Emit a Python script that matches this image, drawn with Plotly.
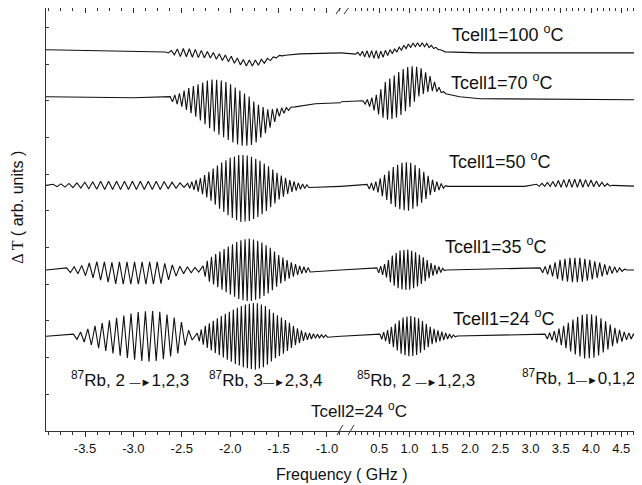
import numpy as np
import plotly.graph_objects as go

# ---------------- data ----------------
# frequencies in GHz, signal in arb. units (vertical offset per trace)
LEFT_RANGE = [-3.903, -0.855]
RIGHT_RANGE = [-0.132, 4.843]

# --- Tcell1 = 100 C ---
T100_BASE = 373
T100_L_BG_F = [-3.90, -3.35, -2.72, -2.42, -2.21, -2.00, -1.85, -1.74, -1.64, -1.49, -1.28, -0.86]
T100_L_BG_V = [1, 0, -1, -2, -4, -8, -12, -12, -10, -5, -3, -2]
T100_L_P1_F = [-2.67, -2.52, -2.36, -2.21, -2.05, -1.90, -1.74, -1.64, -1.54, -1.43]
T100_L_P1_A = [0, 4, 4, 3, 3, 3, 3, 2, 1, 0]
T100_L_P1_STEP = 0.031
T100_R_BG_F = [-0.14, 0.26, 0.51, 0.76, 0.93, 1.09, 1.26, 1.42, 1.59, 2.17, 4.85]
T100_R_BG_V = [-2, -3, -4, 0, 4, 6, 6, 3, -1, -2, -2]
T100_R_P1_F = [0.07, 0.26, 0.43, 0.60, 0.76, 1.26, 1.42, 1.55]
T100_R_P1_A = [0, 3, 4, 3, 2, 2, 1, 0]
T100_R_P1_STEP = 0.038

# --- Tcell1 = 70 C ---
T70_BASE = 327
T70_L_BG_F = [-3.90, -3.00, -2.62, -2.42, -2.21, -2.05, -1.90, -1.74, -1.61, -1.49, -1.33, -1.12, -0.86]
T70_L_BG_V = [1, 0, -1, -2, -6, -12, -20, -25, -22, -14, -9, -6, -5]
T70_L_P1_F = [-2.62, -2.52, -2.42, -2.31, -2.21, -2.11, -2.00, -1.90, -1.80, -1.69, -1.59, -1.49, -1.38]
T70_L_P1_A = [2, 6, 12, 18, 24, 27, 28, 27, 24, 16, 9, 4, 1]
T70_L_P1_STEP = 0.024
T70_R_BG_F = [-0.14, 0.23, 0.48, 0.76, 1.01, 1.17, 1.34, 1.46, 1.59, 1.83, 2.17, 4.85]
T70_R_BG_V = [-4, -4, -6, 1, 11, 16, 14, 9, 4, 1, -1, -2]
T70_R_P1_F = [0.23, 0.35, 0.48, 0.61, 0.74, 0.88, 1.01, 1.14, 1.27, 1.40, 1.50, 1.60]
T70_R_P1_A = [1, 4, 10, 19, 21, 22, 20, 15, 10, 5, 2, 0]
T70_R_P1_STEP = 0.037

# --- Tcell1 = 50 C ---
T50_BASE = 241
T50_L_BG_F = [-3.90, -2.20, -1.90, -1.70, -1.40, -0.86]
T50_L_BG_V = [0, 0, -3, -3, -1, -1]
T50_L_P1_F = [-3.83, -3.65, -3.50, -3.35, -2.73, -2.57, -2.47]
T50_L_P1_A = [1, 2, 3, 4, 4, 3, 2]
T50_L_P1_STEP = 0.041
T50_L_P2_F = [-2.44, -2.31, -2.21, -2.11, -2.00, -1.90, -1.80, -1.69, -1.59, -1.49, -1.38, -1.28, -1.18]
T50_L_P2_A = [2, 7, 14, 22, 29, 33, 32, 27, 20, 12, 6, 3, 1]
T50_L_P2_STEP = 0.022
T50_R_BG_F = [-0.14, 2.90, 3.30, 3.60, 4.00, 4.35, 4.85]
T50_R_BG_V = [-1, -1, 1, 2, 2, 0, -1]
T50_R_P1_F = [0.30, 0.46, 0.60, 0.73, 0.86, 0.99, 1.12, 1.26, 1.39, 1.52, 1.62]
T50_R_P1_A = [2, 5, 12, 19, 23, 24, 20, 13, 6, 3, 0]
T50_R_P1_STEP = 0.036
T50_R_P2_F = [3.10, 3.30, 3.57, 3.82, 4.07, 4.31]
T50_R_P2_A = [1, 2, 4, 4, 3, 1]
T50_R_P2_STEP = 0.045

# --- Tcell1 = 35 C ---
T35_BASE = 158
T35_L_BG_F = [-3.90, -3.40, -3.20, -2.70, -2.50, -0.86]
T35_L_BG_V = [0, 0, -3, -3, 0, 0]
T35_L_P1_F = [-3.69, -3.55, -3.45, -3.35, -3.24, -3.14, -2.73, -2.62, -2.52, -2.42, -2.31]
T35_L_P1_A = [2, 4, 7, 9, 10, 11, 11, 7, 4, 3, 2]
T35_L_P1_STEP = 0.039
T35_L_P2_F = [-2.28, -2.21, -2.11, -2.00, -1.90, -1.80, -1.69, -1.59, -1.49, -1.38, -1.28, -1.18]
T35_L_P2_A = [4, 12, 18, 24, 29, 31, 28, 22, 14, 8, 4, 2]
T35_L_P2_STEP = 0.0217
T35_R_BG_F = [-0.14, 4.85]
T35_R_BG_V = [0, 0]
T35_R_P1_F = [0.46, 0.60, 0.71, 0.84, 0.98, 1.11, 1.24, 1.37, 1.50, 1.60]
T35_R_P1_A = [2, 6, 14, 19, 20, 17, 12, 6, 3, 0]
T35_R_P1_STEP = 0.032
T35_R_P2_F = [3.16, 3.32, 3.49, 3.65, 3.82, 3.98, 4.15, 4.31, 4.48, 4.60]
T35_R_P2_A = [2, 5, 10, 12, 12, 10, 7, 4, 2, 0]
T35_R_P2_STEP = 0.041

# --- Tcell1 = 24 C ---
T24_BASE = 93
T24_L_BG_F = [-3.90, -0.86]
T24_L_BG_V = [0, 0]
T24_L_P1_F = [-3.62, -3.55, -3.45, -3.35, -3.24, -3.14, -3.04, -2.93, -2.83, -2.73, -2.62, -2.52, -2.45, -2.38]
T24_L_P1_A = [2, 4, 8, 12, 16, 19, 22, 24, 25, 24, 20, 16, 7, 3]
T24_L_P1_STEP = 0.0372
T24_L_P2_F = [-2.34, -2.26, -2.16, -2.05, -1.95, -1.85, -1.74, -1.64, -1.54, -1.43, -1.33, -1.23, -1.12, -1.00]
T24_L_P2_A = [3, 10, 16, 22, 27, 31, 33, 30, 22, 16, 9, 4, 2, 1]
T24_L_P2_STEP = 0.0207
T24_R_BG_F = [-0.14, 4.85]
T24_R_BG_V = [0, 0]
T24_R_P1_F = [0.51, 0.64, 0.76, 0.88, 1.01, 1.14, 1.26, 1.37, 1.50, 1.67, 1.80]
T24_R_P1_A = [2, 6, 12, 18, 20, 18, 13, 8, 5, 2, 0]
T24_R_P1_STEP = 0.032
T24_R_P2_F = [3.24, 3.40, 3.57, 3.74, 3.90, 4.07, 4.23, 4.40, 4.56, 4.73, 4.85]
T24_R_P2_A = [2, 5, 11, 18, 22, 21, 15, 8, 4, 2, 1]
T24_R_P2_STEP = 0.0385

TEMP_LABELS = ["Tcell1=100 <sup>o</sup>C", "Tcell1=70 <sup>o</sup>C", "Tcell1=50 <sup>o</sup>C",
               "Tcell1=35 <sup>o</sup>C", "Tcell1=24 <sup>o</sup>C"]
TEMP_LABEL_F = [2.63, 2.53, 2.50, 2.43, 2.56]
TEMP_LABEL_Y = [390, 343, 265, 182, 111]

ARROW = "<span style=\"font-size:11px\">\u2014\u25BA</span>"
LINE_LABELS = ["<sup>87</sup>Rb, 2 " + ARROW + "1,2,3", "<sup>87</sup>Rb, 3" + ARROW + "2,3,4",
               "<sup>85</sup>Rb, 2 " + ARROW + "1,2,3", "<sup>87</sup>Rb, 1" + ARROW + "0,1,2"]
LINE_LABEL_F = [-3.035, -1.63, 1.107, 3.80]
LINE_LABEL_AX = ["x", "x", "x2", "x2"]
LINE_LABEL_Y = [51, 51, 51, 53]

LEFT_MAJOR = [-3.5, -3.0, -2.5, -2.0, -1.5, -1.0]
RIGHT_MAJOR = [0.5, 1.0, 1.5, 2.0, 2.5, 3.0, 3.5, 4.0, 4.5]
Y_TICKS = [36, 72, 108, 144, 180, 216, 252, 288, 324, 360, 396]

# ---------------- build the traces ----------------
def build(base, bg_f, bg_v, packets, lo, hi):
    ranges = [(p[0][0], p[0][-1]) for p in packets]
    pts = []
    for f in [lo] + list(bg_f) + [hi]:
        if lo <= f <= hi and not any(a <= f <= b for a, b in ranges):
            pts.append((f, base + np.interp(f, bg_f, bg_v)))
    for ef, ea, step in packets:
        n = int(round((ef[-1] - ef[0]) / step))
        for i in range(n + 1):
            f = ef[0] + i * step
            a = np.interp(f, ef, ea)
            s = 1 if i % 2 == 0 else -1
            pts.append((f, base + np.interp(f, bg_f, bg_v) + s * a))
    pts.sort()
    return [p[0] for p in pts], [p[1] for p in pts]

SERIES = [
    (T100_BASE, (T100_L_BG_F, T100_L_BG_V, [(T100_L_P1_F, T100_L_P1_A, T100_L_P1_STEP)]),
                (T100_R_BG_F, T100_R_BG_V, [(T100_R_P1_F, T100_R_P1_A, T100_R_P1_STEP)])),
    (T70_BASE, (T70_L_BG_F, T70_L_BG_V, [(T70_L_P1_F, T70_L_P1_A, T70_L_P1_STEP)]),
               (T70_R_BG_F, T70_R_BG_V, [(T70_R_P1_F, T70_R_P1_A, T70_R_P1_STEP)])),
    (T50_BASE, (T50_L_BG_F, T50_L_BG_V, [(T50_L_P1_F, T50_L_P1_A, T50_L_P1_STEP),
                                         (T50_L_P2_F, T50_L_P2_A, T50_L_P2_STEP)]),
               (T50_R_BG_F, T50_R_BG_V, [(T50_R_P1_F, T50_R_P1_A, T50_R_P1_STEP),
                                         (T50_R_P2_F, T50_R_P2_A, T50_R_P2_STEP)])),
    (T35_BASE, (T35_L_BG_F, T35_L_BG_V, [(T35_L_P1_F, T35_L_P1_A, T35_L_P1_STEP),
                                         (T35_L_P2_F, T35_L_P2_A, T35_L_P2_STEP)]),
               (T35_R_BG_F, T35_R_BG_V, [(T35_R_P1_F, T35_R_P1_A, T35_R_P1_STEP),
                                         (T35_R_P2_F, T35_R_P2_A, T35_R_P2_STEP)])),
    (T24_BASE, (T24_L_BG_F, T24_L_BG_V, [(T24_L_P1_F, T24_L_P1_A, T24_L_P1_STEP),
                                         (T24_L_P2_F, T24_L_P2_A, T24_L_P2_STEP)]),
               (T24_R_BG_F, T24_R_BG_V, [(T24_R_P1_F, T24_R_P1_A, T24_R_P1_STEP),
                                         (T24_R_P2_F, T24_R_P2_A, T24_R_P2_STEP)])),
]

fig = go.Figure()
for base, left, right in SERIES:
    xl, yl = build(base, left[0], left[1], left[2], LEFT_RANGE[0], LEFT_RANGE[1])
    xr, yr = build(base, right[0], right[1], right[2], RIGHT_RANGE[0], RIGHT_RANGE[1])
    fig.add_trace(go.Scatter(x=xl, y=yl, mode="lines", xaxis="x", yaxis="y",
                             line=dict(color="#111", width=1.1), showlegend=False))
    fig.add_trace(go.Scatter(x=xr, y=yr, mode="lines", xaxis="x2", yaxis="y",
                             line=dict(color="#111", width=1.1), showlegend=False))

FONT = "Liberation Sans, Arial, sans-serif"
AXC = "#333"
# page offset of the figure (browser body margin) is 8 px
OFF = 8
L_PX, R_PX, BRK_PX, TOP_PX, BOT_PX = 46, 642, 341, 8, 423
W = R_PX - L_PX
H = BOT_PX - TOP_PX
d = (BRK_PX - L_PX) / W

left_minor = list(np.round(np.arange(-3.875, -0.85, 0.125), 4))
right_minor = list(np.round(np.arange(0.1, 4.85, 0.1), 4))

def xax(domain, rng, major, minor, side, ticks, labels, overlay=None):
    d_ = dict(range=rng, anchor="y", side=side, showline=True, linecolor=AXC, linewidth=1,
              ticks=ticks, ticklen=5, tickwidth=1, tickcolor=AXC,
              tickvals=major, ticktext=[f"{v:.1f}" for v in major],
              showticklabels=labels, tickfont=dict(family=FONT, size=13, color="#111"),
              minor=dict(tickvals=minor, ticks=ticks, ticklen=3, tickwidth=1, tickcolor=AXC),
              showgrid=False, zeroline=False)
    if overlay:
        d_["overlaying"] = overlay
    else:
        d_["domain"] = domain
    return d_

fig.update_layout(
    width=642 - OFF, height=485 - OFF,
    margin=dict(l=L_PX - OFF, r=0, t=TOP_PX - OFF, b=485 - BOT_PX - OFF, autoexpand=False),
    paper_bgcolor="white", plot_bgcolor="white",
    xaxis=xax([0, d], LEFT_RANGE, LEFT_MAJOR, left_minor, "bottom", "outside", True),
    xaxis2=xax([d, 1], RIGHT_RANGE, RIGHT_MAJOR, right_minor, "bottom", "outside", True),
    xaxis3=xax(None, LEFT_RANGE, LEFT_MAJOR, left_minor, "top", "inside", False, overlay="x"),
    xaxis4=xax(None, RIGHT_RANGE, RIGHT_MAJOR, right_minor, "top", "inside", False, overlay="x2"),
    yaxis=dict(range=[0, 415], domain=[0, 1], showline=True, linecolor=AXC, linewidth=1,
               ticks="inside", ticklen=3, tickcolor=AXC, tickvals=Y_TICKS,
               showticklabels=False, showgrid=False, zeroline=False),
    font=dict(family=FONT, color="#111"),
)
# invisible anchors so the top overlay axes render
fig.add_trace(go.Scatter(x=[LEFT_RANGE[0]], y=[-10], xaxis="x3", yaxis="y", mode="markers",
                         marker=dict(opacity=0), showlegend=False, hoverinfo="skip"))
fig.add_trace(go.Scatter(x=[RIGHT_RANGE[0]], y=[-10], xaxis="x4", yaxis="y", mode="markers",
                         marker=dict(opacity=0), showlegend=False, hoverinfo="skip"))

def px_x(p):
    return (p - L_PX) / W

def px_y(p):
    return (BOT_PX - p) / H

anns = []
for t, f, y in zip(TEMP_LABELS, TEMP_LABEL_F, TEMP_LABEL_Y):
    anns.append(dict(text=t, x=f, y=y, xref="x2", yref="y", showarrow=False,
                     xanchor="center", yanchor="middle",
                     font=dict(family=FONT, size=18, color="#111")))
for t, f, ax, y in zip(LINE_LABELS, LINE_LABEL_F, LINE_LABEL_AX, LINE_LABEL_Y):
    anns.append(dict(text=t, x=f, y=y, xref=ax, yref="y", showarrow=False,
                     xanchor="center", yanchor="middle",
                     font=dict(family=FONT, size=17, color="#111")))
anns.append(dict(text="Tcell2=24 <sup>o</sup>C", x=0.165, y=21, xref="x2", yref="y",
                 showarrow=False, xanchor="center", yanchor="middle",
                 font=dict(family=FONT, size=17, color="#111")))
anns.append(dict(text="Frequency ( GHz )", x=px_x(342), y=px_y(466), xref="paper",
                 yref="paper", showarrow=False, xanchor="center", yanchor="middle",
                 font=dict(family=FONT, size=16, color="#111")))
anns.append(dict(text="<span style=\"font-family:'Liberation Serif'\">\u0394 T</span> ( arb. units )",
                 x=px_x(18), y=px_y(204), xref="paper", yref="paper", xanchor="center",
                 yanchor="middle", showarrow=False, textangle=-90,
                 font=dict(family=FONT, size=16, color="#111")))
fig.update_layout(annotations=anns)

# axis-break marks
shapes = []
for (x0, y0, x1, y1) in [(337, 427, 343, 417), (348, 427, 354, 417),
                         (336, 14, 345, 2), (344, 14, 353, 2)]:
    shapes.append(dict(type="line", xref="paper", yref="paper", x0=px_x(x0), y0=px_y(y0),
                       x1=px_x(x1), y1=px_y(y1), line=dict(color=AXC, width=1)))
fig.update_layout(shapes=shapes)

fig.write_html("out.html")
